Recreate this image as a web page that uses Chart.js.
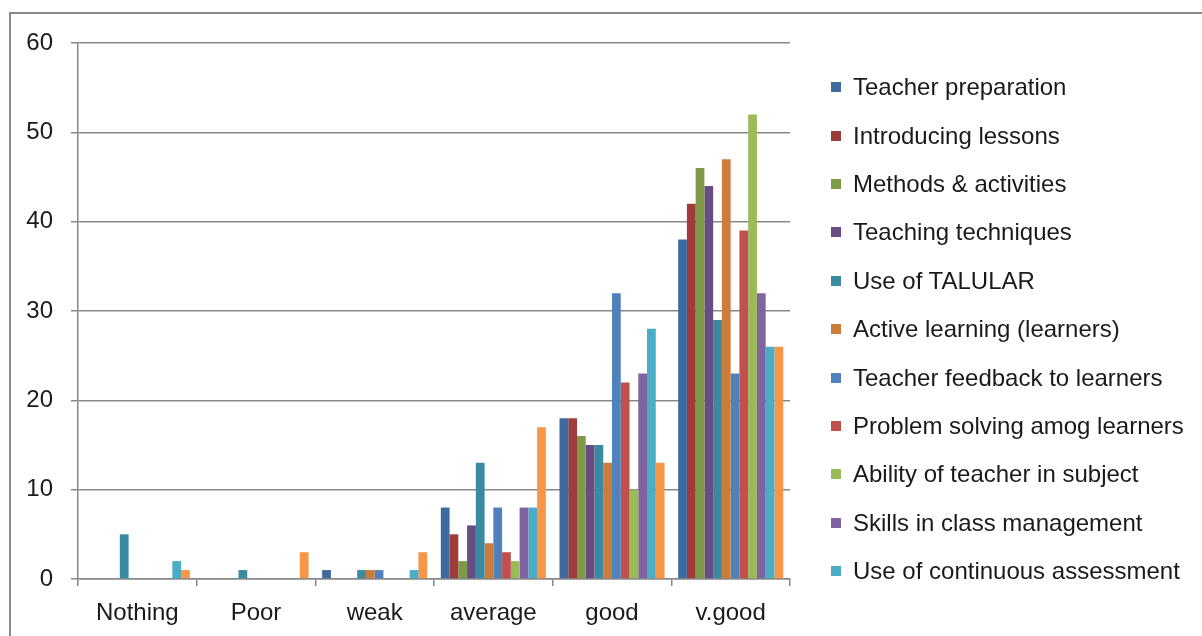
<!DOCTYPE html>
<html>
<head>
<meta charset="utf-8">
<script src="https://cdn.jsdelivr.net/npm/chart.js@4/dist/chart.umd.min.js"></script>
<style>
    html, body { margin: 0; padding: 0; background: #ffffff; overflow: hidden; }
    #frame {
        position: absolute; left: 9px; top: 12px; width: 1300px; height: 700px;
        border: 2px solid #8a8a8a; box-sizing: border-box;
    }
    #chart { position: absolute; left: 0; top: 0; }
    #legend {
        position: absolute; left: 831px; top: 63px;
        font-family: "Liberation Sans", Arial, sans-serif; font-size: 24px; color: #1a1a1a;
    }
    .legend-row { height: 48.4px; display: flex; align-items: center; white-space: nowrap; }
    .legend-box { width: 10px; height: 10px; margin-right: 12px; flex: none; }
</style>
</head>
<body>
<div id="frame"></div>
<canvas id="chart" width="1202" height="636"></canvas>
<div id="legend"></div>
<script>
// grouped bar chart: ratings of lessons per category

var categories = ["Nothing", "Poor", "weak", "average", "good", "v.good"];

var teacher_preparation    = [0, 0, 1, 8, 18, 38];
var introducing_lessons    = [0, 0, 0, 5, 18, 42];
var methods_activities     = [0, 0, 0, 2, 16, 46];
var teaching_techniques    = [0, 0, 0, 6, 15, 44];
var use_of_talular         = [5, 1, 1, 13, 15, 29];
var active_learning        = [0, 0, 1, 4, 13, 47];
var teacher_feedback       = [0, 0, 1, 8, 32, 23];
var problem_solving        = [0, 0, 0, 3, 22, 39];
var ability_of_teacher     = [0, 0, 0, 2, 10, 52];
var class_management       = [0, 0, 0, 8, 23, 32];
var continuous_assessment  = [2, 0, 1, 8, 28, 26];
var twelfth_series         = [1, 3, 3, 17, 13, 26];   // its legend entry is cut off in the picture

var series_labels = [
    "Teacher preparation", "Introducing lessons", "Methods & activities",
    "Teaching techniques", "Use of TALULAR", "Active learning (learners)",
    "Teacher feedback to learners", "Problem solving amog learners",
    "Ability of teacher in subject", "Skills in class management",
    "Use of continuous assessment", ""
];
var series_values = [
    teacher_preparation, introducing_lessons, methods_activities,
    teaching_techniques, use_of_talular, active_learning,
    teacher_feedback, problem_solving, ability_of_teacher,
    class_management, continuous_assessment, twelfth_series
];
var series_colors = [
    "#3f6a9f", "#9e3c3a", "#7e9a47", "#664e85", "#3a8ba1", "#cd7b38",
    "#4f81bd", "#c0504d", "#9bbb59", "#8064a2", "#4bacc6", "#f79646"
];
var legend_count = 11;

var font_family = '"Liberation Sans", Arial, sans-serif';
var text_color = "#1a1a1a";
var line_color = "#888888";

function build_datasets() {
    var datasets = [];
    for (var i = 0; i < series_values.length; i++) {
        datasets.push({
            label: series_labels[i],
            data: series_values[i],
            backgroundColor: series_colors[i],
            borderWidth: 0,
            categoryPercentage: 0.885,
            barPercentage: 1.0
        });
    }
    return datasets;
}

function build_legend(chart) {
    // html legend, made from the chart's datasets
    var box = document.getElementById("legend");
    var datasets = chart.data.datasets;
    for (var i = 0; i < legend_count; i++) {
        var row = document.createElement("div");
        row.className = "legend-row";
        var swatch = document.createElement("span");
        swatch.className = "legend-box";
        swatch.style.background = datasets[i].backgroundColor;
        var text = document.createElement("span");
        text.textContent = datasets[i].label;
        row.appendChild(swatch);
        row.appendChild(text);
        box.appendChild(row);
    }
}

function main() {
    var chart = new Chart(
        document.getElementById("chart"),
        {
            type: "bar",
            data: {
                labels: categories,
                datasets: build_datasets()
            },
            options: {
                responsive: false,
                animation: false,
                layout: { padding: { left: 8, top: 43, right: 412, bottom: 0 } },
                plugins: {
                    legend: { display: false },
                    tooltip: { enabled: false }
                },
                scales: {
                    x: {
                        grid: {
                            drawOnChartArea: false,
                            drawTicks: true,
                            tickLength: 7,
                            color: line_color,
                            lineWidth: 1.5,
                            offset: true
                        },
                        border: { color: line_color, width: 1.5 },
                        ticks: {
                            font: { family: font_family, size: 24 },
                            color: text_color,
                            padding: 13,
                            maxRotation: 0
                        },
                        afterFit: function (scale) { scale.height = 57; }
                    },
                    y: {
                        min: 0,
                        max: 60,
                        ticks: {
                            stepSize: 10,
                            font: { family: font_family, size: 24 },
                            color: text_color,
                            padding: 18
                        },
                        grid: { color: line_color, lineWidth: 1.5, tickLength: 7 },
                        border: { color: line_color, width: 1.5 },
                        afterFit: function (scale) { scale.width = 70; }
                    }
                }
            }
        }
    );
    build_legend(chart);
}

main();
</script>
</body>
</html>
